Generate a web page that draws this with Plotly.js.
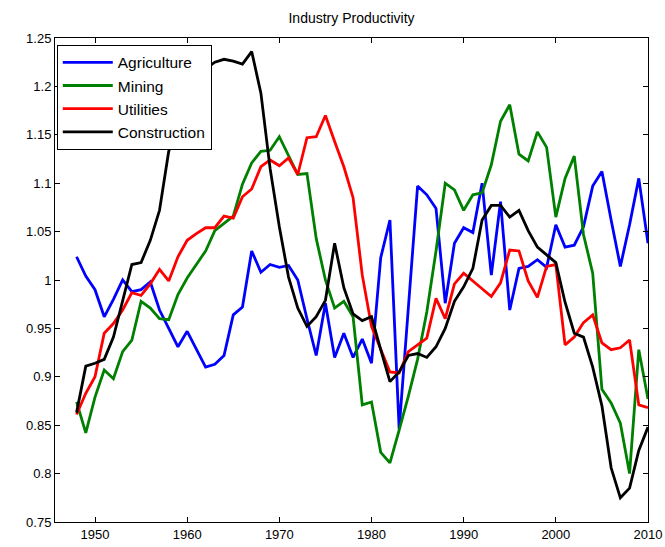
<!DOCTYPE html>
<html>
<head>
<meta charset="utf-8">
<script src="https://cdn.plot.ly/plotly-3.0.1.min.js"></script>
<style>html,body{margin:0;padding:0;background:#fff;}#chart{width:665px;height:547px;}</style>
</head>
<body>
<div id="chart"></div>
<script>
const years = [];
for (let y = 1948; y <= 2010; y++) years.push(y);

const agriculture = [1.024,1.004,0.990,0.962,0.980,1.000,0.988,0.990,0.998,0.969,
  0.950,0.931,0.947,0.928,0.910,0.913,0.922,0.964,0.972,1.030,
  1.008,1.016,1.013,1.015,1.000,0.960,0.922,0.976,0.920,0.945,
  0.920,0.939,0.914,1.023,1.062,0.846,0.975,1.097,1.088,1.074,
  0.976,1.038,1.054,1.049,1.100,1.005,1.081,0.969,1.012,1.014,
  1.021,1.013,1.057,1.034,1.036,1.055,1.097,1.112,1.062,1.014,
  1.057,1.105,1.038];

const mining = [0.874,0.842,0.879,0.907,0.898,0.926,0.938,0.978,0.971,0.960,
  0.959,0.985,1.002,1.016,1.030,1.051,1.059,1.066,1.099,1.121,
  1.133,1.134,1.148,1.129,1.109,1.110,1.043,1.000,0.971,0.978,
  0.962,0.871,0.874,0.822,0.811,0.845,0.880,0.918,0.967,1.030,
  1.100,1.093,1.072,1.088,1.090,1.119,1.164,1.181,1.130,1.123,
  1.153,1.137,1.065,1.105,1.128,1.047,1.007,0.887,0.873,0.852,
  0.800,0.928,0.877];

const utilities = [0.861,0.883,0.900,0.945,0.955,0.969,0.987,0.984,0.996,1.011,
  0.999,1.024,1.041,1.048,1.054,1.054,1.066,1.064,1.086,1.094,
  1.117,1.124,1.118,1.126,1.109,1.147,1.148,1.170,1.143,1.117,
  1.085,1.005,0.952,0.928,0.905,0.904,0.926,0.933,0.940,0.981,
  0.960,0.996,1.007,0.999,0.991,0.983,0.997,1.031,1.030,0.999,
  0.982,1.014,1.016,0.933,0.941,0.956,0.964,0.935,0.928,0.930,
  0.938,0.871,0.868];

const construction = [0.863,0.911,0.914,0.918,0.941,0.980,1.016,1.018,1.041,1.072,
  1.133,1.155,1.185,1.205,1.218,1.225,1.228,1.226,1.223,1.236,
  1.193,1.115,1.055,1.003,0.971,0.952,0.962,0.979,1.038,0.992,
  0.965,0.958,0.962,0.928,0.895,0.905,0.922,0.924,0.920,0.931,
  0.950,0.978,0.993,1.012,1.062,1.077,1.077,1.065,1.072,1.051,
  1.034,1.026,1.018,0.977,0.945,0.941,0.910,0.870,0.806,0.775,
  0.785,0.824,0.848];

const seriesNames = ["Agriculture", "Mining", "Utilities", "Construction"];
const seriesValues = [agriculture, mining, utilities, construction];
const seriesColors = ["#0000ff", "#008000", "#ff0000", "#000000"];

const xTicks = [1950, 1960, 1970, 1980, 1990, 2000, 2010];
const yTicks = [0.75, 0.8, 0.85, 0.9, 0.95, 1, 1.05, 1.1, 1.15, 1.2, 1.25];
const yTickText = ["0.75", "0.8", "0.85", "0.9", "0.95", "1", "1.05", "1.1", "1.15", "1.2", "1.25"];

const traces = seriesNames.map((name, i) => ({
  x: years,
  y: seriesValues[i],
  type: "scatter",
  mode: "lines",
  name: name,
  line: { color: seriesColors[i], width: 2.8 }
}));

const font = "Liberation Sans, Arial, Helvetica, sans-serif";

const layout = {
  width: 665,
  height: 547,
  margin: { l: 55, r: 17, t: 38, b: 25 },
  paper_bgcolor: "#ffffff",
  plot_bgcolor: "#ffffff",
  showlegend: true,
  title: {
    text: "Industry Productivity",
    font: { family: font, size: 14, color: "#000" },
    xref: "paper", x: 0.5, xanchor: "center",
    yref: "container", y: 1 - 18 / 547, yanchor: "middle"
  },
  xaxis: {
    range: [1945.66, 2010],
    tickvals: xTicks,
    ticktext: xTicks.map(String),
    ticks: "inside",
    ticklen: 5,
    tickcolor: "#000",
    showline: true,
    linecolor: "#000",
    linewidth: 1,
    mirror: "allticks",
    showgrid: false,
    zeroline: false,
    tickfont: { family: font, size: 13, color: "#000" }
  },
  yaxis: {
    range: [0.75, 1.25],
    tickvals: yTicks,
    ticktext: yTickText,
    ticks: "inside",
    ticklen: 5,
    tickcolor: "#000",
    showline: true,
    linecolor: "#000",
    linewidth: 1,
    mirror: "allticks",
    showgrid: false,
    zeroline: false,
    tickfont: { family: font, size: 13, color: "#000" }
  },
  legend: {
    x: 0.003, y: 0.986, xanchor: "left", yanchor: "top",
    bgcolor: "#ffffff",
    bordercolor: "#000",
    borderwidth: 1,
    itemwidth: 50,
    font: { family: font, size: 15.5, color: "#000" },
    tracegroupgap: 0
  }
};

Plotly.newPlot("chart", traces, layout, { displayModeBar: false, staticPlot: true });
</script>
</body>
</html>
